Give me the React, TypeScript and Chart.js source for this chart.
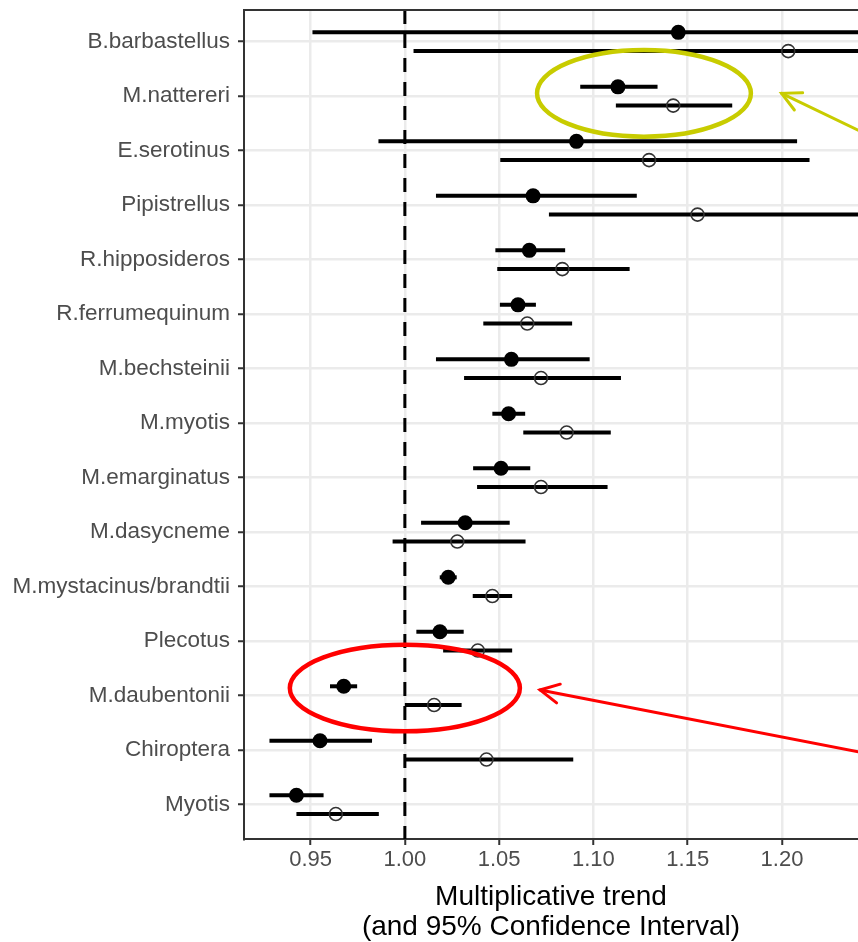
import React, { useEffect, useRef } from 'react';
import { Chart, registerables } from 'chart.js';

Chart.register(...registerables);

// ---- data ----
const categories = [
  'B.barbastellus',
  'M.nattereri',
  'E.serotinus',
  'Pipistrellus',
  'R.hipposideros',
  'R.ferrumequinum',
  'M.bechsteinii',
  'M.myotis',
  'M.emarginatus',
  'M.dasycneme',
  'M.mystacinus/brandtii',
  'Plecotus',
  'M.daubentonii',
  'Chiroptera',
  'Myotis',
];

// filled points (series A)
const estA = [1.145, 1.113, 1.091, 1.068, 1.066, 1.06, 1.0565, 1.055, 1.051, 1.032, 1.023, 1.0186, 0.9676, 0.955, 0.9425];
const loA = [0.951, 1.093, 0.986, 1.0165, 1.048, 1.0504, 1.0165, 1.0464, 1.0362, 1.0086, 1.0185, 1.0061, 0.9603, 0.9282, 0.9282];
const hiA = [1.3, 1.134, 1.208, 1.123, 1.085, 1.0695, 1.098, 1.0638, 1.0665, 1.0556, 1.0275, 1.0312, 0.9747, 0.9826, 0.9569];

// open points (series B)
const estB = [1.2033, 1.1423, 1.1295, 1.1552, 1.0835, 1.0649, 1.0722, 1.0858, 1.0722, 1.0278, 1.0464, 1.0387, 1.0155, 1.0433, 0.9634];
const loB = [1.0046, 1.1119, 1.0506, 1.0764, 1.049, 1.0416, 1.0314, 1.0628, 1.0383, 0.9935, 1.036, 1.0203, 1.0, 1.0, 0.9425];
const hiB = [1.3, 1.1736, 1.2146, 1.245, 1.1192, 1.0887, 1.1146, 1.1092, 1.1075, 1.064, 1.0569, 1.0569, 1.0301, 1.0893, 0.9862];

const xTicks = [0.95, 1.0, 1.05, 1.1, 1.15, 1.2];
const xTitle = ['Multiplicative trend', '(and 95% Confidence Interval)'];
const referenceValue = 1.0;

// annotation ellipses / arrows in data units (x value, row index)
const ellipseCenterX = [1.1268, 1.0];
const ellipseCenterRow = [0.947, 11.86];
const ellipseRadiusX = [0.0567, 0.061];
const ellipseRadiusRow = [0.795, 0.795];
const ellipseColors = ['#C8CC00', '#FF0000'];
const arrowTipX = [1.1998, 1.0717];
const arrowTipRow = [0.947, 11.895];
const arrowTailX = [1.2625, 1.2625];
const arrowTailRow = [1.99, 13.18];

const ROW_OFFSET = 0.172;
const FONT = "'Liberation Sans', Arial, Helvetica, sans-serif";

const bgPlugin = {
  id: 'forestExtras',
  beforeDatasetsDraw(chart: any) {
    const { ctx, chartArea, scales } = chart;
    const xs = scales.x;
    const ys = scales.y;
    ctx.save();
    ctx.beginPath();
    ctx.rect(chartArea.left, chartArea.top, chartArea.right - chartArea.left, chartArea.bottom - chartArea.top);
    ctx.clip();
    // reference dashed line
    const xr = xs.getPixelForValue(referenceValue);
    ctx.strokeStyle = '#000';
    ctx.lineWidth = 3;
    ctx.setLineDash([14, 10]);
    ctx.beginPath();
    ctx.moveTo(xr, chartArea.top);
    ctx.lineTo(xr, chartArea.bottom);
    ctx.stroke();
    ctx.setLineDash([]);
    // error bars
    ctx.lineWidth = 4;
    ctx.lineCap = 'butt';
    ctx.strokeStyle = '#000';
    categories.forEach((_, i) => {
      const ya = ys.getPixelForValue(i - ROW_OFFSET);
      ctx.beginPath();
      ctx.moveTo(xs.getPixelForValue(loA[i]), ya);
      ctx.lineTo(xs.getPixelForValue(hiA[i]), ya);
      ctx.stroke();
      const yb = ys.getPixelForValue(i + ROW_OFFSET);
      ctx.beginPath();
      ctx.moveTo(xs.getPixelForValue(loB[i]), yb);
      ctx.lineTo(xs.getPixelForValue(hiB[i]), yb);
      ctx.stroke();
    });
    ctx.restore();
  },
  afterDatasetsDraw(chart: any) {
    const { ctx, chartArea, scales } = chart;
    const xs = scales.x;
    const ys = scales.y;
    ctx.save();
    ctx.beginPath();
    ctx.rect(chartArea.left, chartArea.top, chartArea.right - chartArea.left, chartArea.bottom - chartArea.top);
    ctx.clip();
    ellipseCenterX.forEach((cxv, k) => {
      const cx = xs.getPixelForValue(cxv);
      const cy = ys.getPixelForValue(ellipseCenterRow[k]);
      const rx = Math.abs(xs.getPixelForValue(cxv + ellipseRadiusX[k]) - cx);
      const ry = Math.abs(ys.getPixelForValue(ellipseCenterRow[k] + ellipseRadiusRow[k]) - cy);
      ctx.strokeStyle = ellipseColors[k];
      ctx.lineWidth = 4.5;
      ctx.beginPath();
      ctx.ellipse(cx, cy, rx, ry, 0, 0, Math.PI * 2);
      ctx.stroke();
      // arrow
      const tx = xs.getPixelForValue(arrowTipX[k]);
      const ty = ys.getPixelForValue(arrowTipRow[k]);
      const sx = xs.getPixelForValue(arrowTailX[k]);
      const sy = ys.getPixelForValue(arrowTailRow[k]);
      ctx.lineWidth = 3;
      ctx.lineCap = 'round';
      ctx.beginPath();
      ctx.moveTo(sx, sy);
      ctx.lineTo(tx, ty);
      ctx.stroke();
      const ang = Math.atan2(sy - ty, sx - tx);
      const spread = (27 * Math.PI) / 180;
      const len = 21;
      ctx.beginPath();
      ctx.moveTo(tx + len * Math.cos(ang - spread), ty + len * Math.sin(ang - spread));
      ctx.lineTo(tx, ty);
      ctx.lineTo(tx + len * Math.cos(ang + spread), ty + len * Math.sin(ang + spread));
      ctx.stroke();
    });
    ctx.restore();
    // top frame line
    ctx.save();
    ctx.strokeStyle = '#333';
    ctx.lineWidth = 2;
    ctx.beginPath();
    ctx.moveTo(chartArea.left, chartArea.top);
    ctx.lineTo(chartArea.right, chartArea.top);
    ctx.stroke();
    ctx.restore();
  },
};

export default function App() {
  const ref = useRef<HTMLCanvasElement | null>(null);

  useEffect(() => {
    if (!ref.current) return;
    const chart = new Chart(ref.current, {
      type: 'scatter',
      data: {
        datasets: [
          {
            label: 'A',
            data: estA.map((v, i) => ({ x: v, y: i - ROW_OFFSET })),
            pointRadius: 7.5,
            pointHoverRadius: 7.5,
            backgroundColor: '#000',
            borderColor: '#000',
            borderWidth: 0,
          },
          {
            label: 'B',
            data: estB.map((v, i) => ({ x: v, y: i + ROW_OFFSET })),
            pointRadius: 6.5,
            pointHoverRadius: 6.5,
            backgroundColor: 'rgba(0,0,0,0)',
            borderColor: '#333',
            borderWidth: 1.6,
          },
        ],
      },
      options: {
        animation: false,
        responsive: false,
        maintainAspectRatio: false,
        layout: { autoPadding: false, padding: { top: 10, right: 0, left: 0, bottom: 0 } },
        plugins: { legend: { display: false }, tooltip: { enabled: false } },
        scales: {
          x: {
            type: 'linear',
            min: 0.9147,
            max: 1.2403,
            afterBuildTicks: (s: any) => {
              s.ticks = xTicks.map((v) => ({ value: v }));
            },
            afterFit: (s: any) => {
              s.height = 103;
              s.paddingLeft = 0;
              s.paddingRight = 0;
            },
            ticks: {
              callback: (v: any) => Number(v).toFixed(2),
              color: '#4D4D4D',
              font: { family: FONT, size: 22 },
              padding: 2,
              maxRotation: 0,
              autoSkip: false,
            },
            grid: { color: '#EBEBEB', lineWidth: 2.5, tickColor: '#333', tickLength: 6, tickWidth: 2 },
            border: { display: true, color: '#333', width: 2 },
            title: {
              display: true,
              text: xTitle,
              color: '#000',
              font: { family: FONT, size: 28, lineHeight: 1.07 },
              padding: { top: 0, bottom: 0 },
            },
          },
          y: {
            type: 'linear',
            reverse: true,
            min: -0.582,
            max: 14.63,
            afterBuildTicks: (s: any) => {
              s.ticks = categories.map((_, i) => ({ value: i }));
            },
            afterFit: (s: any) => {
              s.width = 244;
              s.paddingTop = 0;
              s.paddingBottom = 0;
            },
            ticks: {
              callback: (v: any) => categories[Math.round(Number(v))] ?? '',
              color: '#4D4D4D',
              font: { family: FONT, size: 22.5 },
              padding: 8,
              autoSkip: false,
            },
            grid: { color: '#EBEBEB', lineWidth: 2.5, tickColor: '#333', tickLength: 6, tickWidth: 2 },
            border: { display: true, color: '#333', width: 2 },
          },
        },
      },
      plugins: [bgPlugin],
    });
    return () => chart.destroy();
  }, []);

  return (
    <div style={{ position: 'absolute', left: 0, top: 0, width: 858, height: 942, background: '#fff' }}>
      <canvas ref={ref} width={858} height={942} style={{ width: 858, height: 942, display: 'block' }} />
    </div>
  );
}
